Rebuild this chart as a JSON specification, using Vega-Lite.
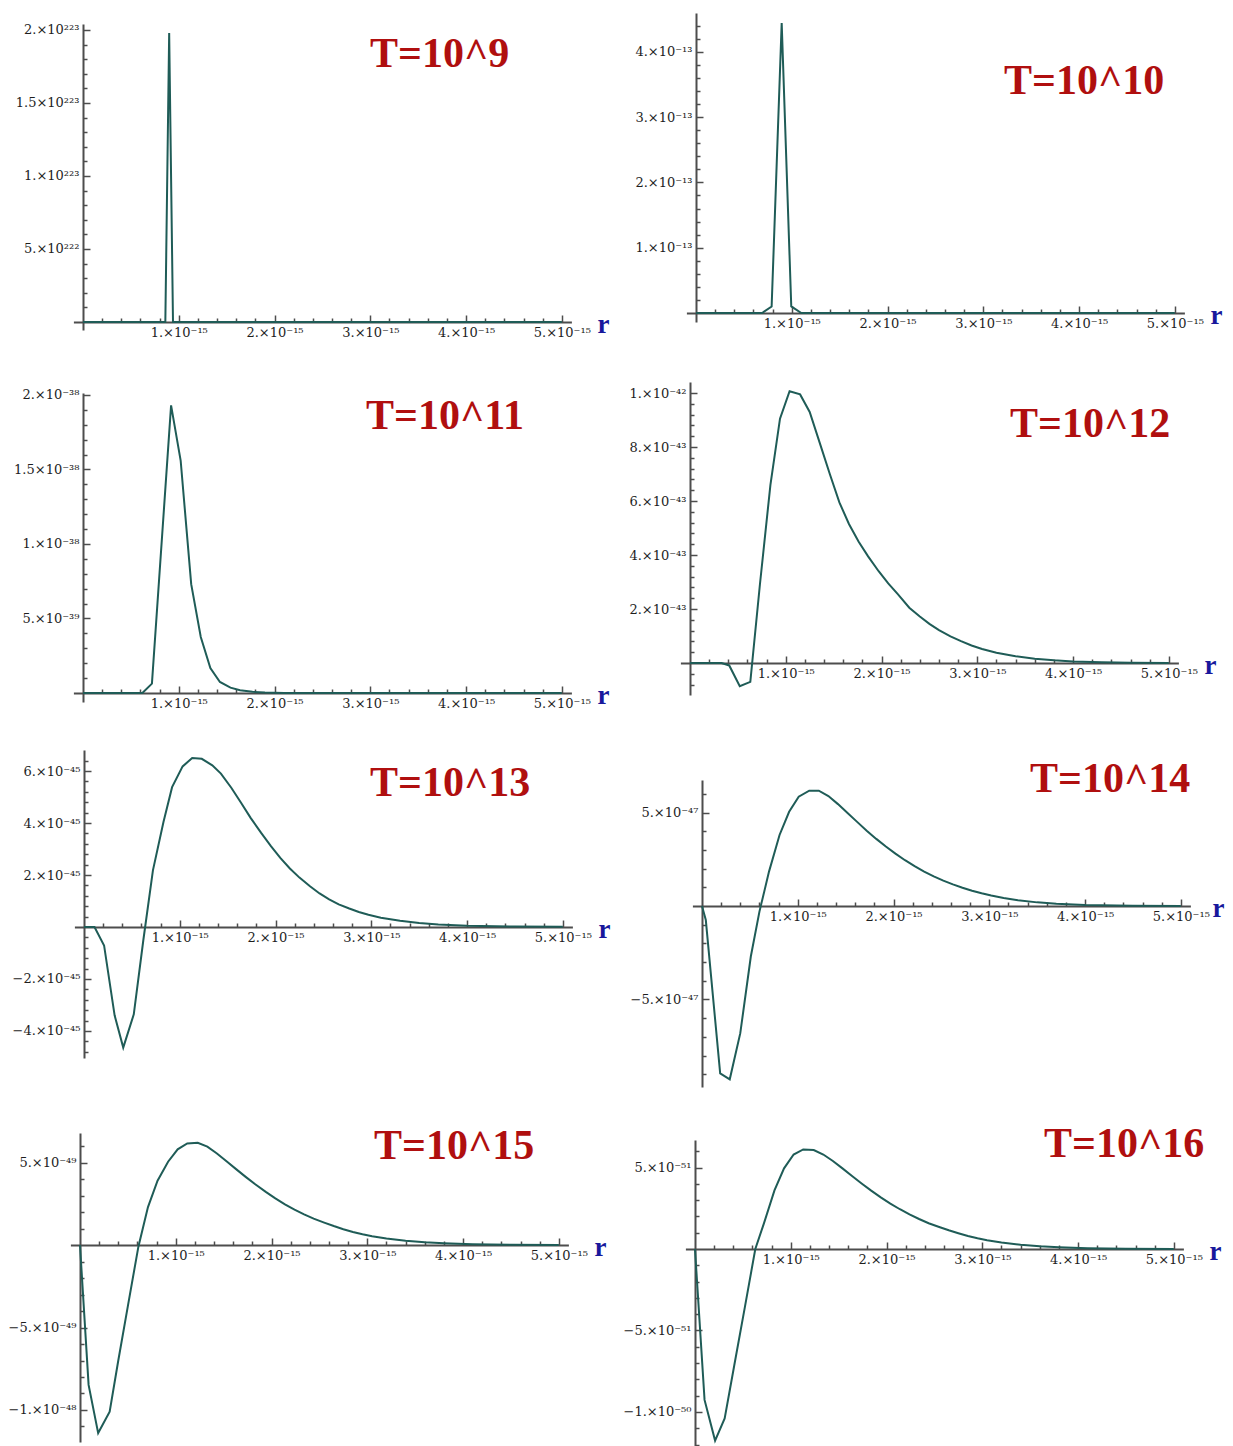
{
  "$schema": "https://vega.github.io/schema/vega-lite/v6.json",
  "background": "white",
  "padding": 0,
  "spacing": 0,
  "config": {
    "view": {"stroke": null},
    "axis": {
      "grid": false,
      "zindex": 1,
      "domainColor": "#4d4d4d",
      "domainWidth": 2,
      "tickColor": "#4d4d4d",
      "tickWidth": 1.5,
      "labelFont": "DejaVu Serif",
      "labelFontSize": 13,
      "labelFontWeight": "normal",
      "labelColor": "#1e1e1e",
      "labelPadding": 11,
      "labelFlush": false,
      "labelOverlap": false,
      "labelBound": false
    },
    "title": {
      "font": "Liberation Serif",
      "fontSize": 42,
      "fontWeight": "bold",
      "color": "#b00f0f",
      "anchor": "start",
      "frame": "group",
      "orient": "top",
      "offset": 0,
      "baseline": "alphabetic"
    },
    "line": {"color": "#1f5c57", "strokeWidth": 2}
  },
  "datasets": {
    "t9": [{"r":0,"f":0},{"r":8.6e-16,"f":0},{"r":9.0e-16,"f":1.98e223},{"r":9.4e-16,"f":0},{"r":5e-15,"f":0}],
    "t10": [{"r":0,"f":0},{"r":6.9e-16,"f":0},{"r":7.9e-16,"f":1.0e-14},{"r":8.95e-16,"f":4.44e-13},{"r":9.95e-16,"f":1.0e-14},{"r":1.1e-15,"f":0},{"r":5e-15,"f":0}],
    "t11": [{"r":0,"f":0},{"r":6.2e-16,"f":0},{"r":7.2e-16,"f":6.3e-40},{"r":9.2e-16,"f":1.93e-38},{"r":1.02e-15,"f":1.56e-38},{"r":1.13e-15,"f":7.3e-39},{"r":1.23e-15,"f":3.76e-39},{"r":1.33e-15,"f":1.68e-39},{"r":1.43e-15,"f":7.4e-40},{"r":1.54e-15,"f":3.6e-40},{"r":1.64e-15,"f":1.8e-40},{"r":1.77e-15,"f":8e-41},{"r":1.9e-15,"f":3e-41},{"r":2.1e-15,"f":0},{"r":5e-15,"f":0}],
    "t12": [{"r":0,"f":0},{"r":3.3e-16,"f":0},{"r":4.1e-16,"f":-9e-45},{"r":5.2e-16,"f":-8.6e-44},{"r":6.3e-16,"f":-7.0e-44},{"r":7.3e-16,"f":2.9e-43},{"r":8.4e-16,"f":6.6e-43},{"r":9.4e-16,"f":9.05e-43},{"r":1.04e-15,"f":1.007e-42},{"r":1.15e-15,"f":9.95e-43},{"r":1.25e-15,"f":9.3e-43},{"r":1.36e-15,"f":8.1e-43},{"r":1.46e-15,"f":7.0e-43},{"r":1.56e-15,"f":5.95e-43},{"r":1.66e-15,"f":5.15e-43},{"r":1.76e-15,"f":4.5e-43},{"r":1.86e-15,"f":3.95e-43},{"r":1.97e-15,"f":3.4e-43},{"r":2.07e-15,"f":2.95e-43},{"r":2.17e-15,"f":2.55e-43},{"r":2.29e-15,"f":2.05e-43},{"r":2.4e-15,"f":1.72e-43},{"r":2.5e-15,"f":1.45e-43},{"r":2.6e-15,"f":1.22e-43},{"r":2.72e-15,"f":9.9e-44},{"r":2.83e-15,"f":8.1e-44},{"r":2.94e-15,"f":6.5e-44},{"r":3.05e-15,"f":5.2e-44},{"r":3.2e-15,"f":3.8e-44},{"r":3.4e-15,"f":2.5e-44},{"r":3.6e-15,"f":1.6e-44},{"r":3.8e-15,"f":1e-44},{"r":4.0e-15,"f":6e-45},{"r":4.3e-15,"f":3e-45},{"r":4.6e-15,"f":1.2e-45},{"r":5e-15,"f":4e-46}],
    "t13": [{"r":0,"f":0},{"r":1.1e-16,"f":0},{"r":2.1e-16,"f":-7.1e-46},{"r":3.2e-16,"f":-3.4e-45},{"r":4.1e-16,"f":-4.64e-45},{"r":5.2e-16,"f":-3.36e-45},{"r":6.2e-16,"f":-5e-46},{"r":7.2e-16,"f":2.18e-45},{"r":8.3e-16,"f":4.04e-45},{"r":9.2e-16,"f":5.38e-45},{"r":1.03e-15,"f":6.18e-45},{"r":1.13e-15,"f":6.5e-45},{"r":1.23e-15,"f":6.47e-45},{"r":1.34e-15,"f":6.22e-45},{"r":1.43e-15,"f":5.9e-45},{"r":1.54e-15,"f":5.35e-45},{"r":1.64e-15,"f":4.78e-45},{"r":1.74e-15,"f":4.2e-45},{"r":1.85e-15,"f":3.62e-45},{"r":1.95e-15,"f":3.12e-45},{"r":2.05e-15,"f":2.66e-45},{"r":2.15e-15,"f":2.25e-45},{"r":2.25e-15,"f":1.9e-45},{"r":2.36e-15,"f":1.57e-45},{"r":2.46e-15,"f":1.29e-45},{"r":2.56e-15,"f":1.06e-45},{"r":2.66e-15,"f":8.7e-46},{"r":2.77e-15,"f":7.1e-46},{"r":2.87e-15,"f":5.8e-46},{"r":2.97e-15,"f":4.7e-46},{"r":3.1e-15,"f":3.6e-46},{"r":3.3e-15,"f":2.4e-46},{"r":3.5e-15,"f":1.55e-46},{"r":3.7e-15,"f":1e-46},{"r":4.0e-15,"f":5e-47},{"r":4.5e-15,"f":1.6e-47},{"r":5e-15,"f":5e-48}],
    "t14": [{"r":0,"f":0},{"r":4e-17,"f":-7.5e-48},{"r":1.9e-16,"f":-8.95e-47},{"r":2.9e-16,"f":-9.27e-47},{"r":4.0e-16,"f":-6.8e-47},{"r":5.1e-16,"f":-2.7e-47},{"r":6.0e-16,"f":-3e-48},{"r":7.0e-16,"f":1.84e-47},{"r":8.1e-16,"f":3.8e-47},{"r":9.1e-16,"f":5.04e-47},{"r":1.01e-15,"f":5.85e-47},{"r":1.12e-15,"f":6.17e-47},{"r":1.22e-15,"f":6.17e-47},{"r":1.32e-15,"f":5.88e-47},{"r":1.42e-15,"f":5.45e-47},{"r":1.52e-15,"f":4.98e-47},{"r":1.62e-15,"f":4.5e-47},{"r":1.72e-15,"f":4.03e-47},{"r":1.82e-15,"f":3.59e-47},{"r":1.92e-15,"f":3.18e-47},{"r":2.02e-15,"f":2.8e-47},{"r":2.12e-15,"f":2.45e-47},{"r":2.22e-15,"f":2.13e-47},{"r":2.32e-15,"f":1.84e-47},{"r":2.42e-15,"f":1.59e-47},{"r":2.52e-15,"f":1.36e-47},{"r":2.62e-15,"f":1.16e-47},{"r":2.72e-15,"f":9.8e-48},{"r":2.82e-15,"f":8.2e-48},{"r":2.92e-15,"f":6.8e-48},{"r":3.02e-15,"f":5.6e-48},{"r":3.15e-15,"f":4.3e-48},{"r":3.3e-15,"f":3.1e-48},{"r":3.5e-15,"f":1.95e-48},{"r":3.7e-15,"f":1.2e-48},{"r":4.0e-15,"f":6e-49},{"r":4.5e-15,"f":2e-49},{"r":5e-15,"f":5e-50}],
    "t15": [{"r":0,"f":0},{"r":9e-17,"f":-8.48e-49},{"r":1.9e-16,"f":-1.14e-48},{"r":3.1e-16,"f":-1.01e-48},{"r":4.0e-16,"f":-7.0e-49},{"r":5.0e-16,"f":-3.7e-49},{"r":6.1e-16,"f":-1e-50},{"r":7.1e-16,"f":2.3e-49},{"r":8.1e-16,"f":3.9e-49},{"r":9.2e-16,"f":5.05e-49},{"r":1.02e-15,"f":5.8e-49},{"r":1.12e-15,"f":6.16e-49},{"r":1.23e-15,"f":6.2e-49},{"r":1.33e-15,"f":5.96e-49},{"r":1.43e-15,"f":5.55e-49},{"r":1.53e-15,"f":5.08e-49},{"r":1.63e-15,"f":4.6e-49},{"r":1.73e-15,"f":4.13e-49},{"r":1.83e-15,"f":3.68e-49},{"r":1.94e-15,"f":3.22e-49},{"r":2.04e-15,"f":2.83e-49},{"r":2.14e-15,"f":2.47e-49},{"r":2.24e-15,"f":2.15e-49},{"r":2.34e-15,"f":1.86e-49},{"r":2.44e-15,"f":1.6e-49},{"r":2.55e-15,"f":1.36e-49},{"r":2.65e-15,"f":1.15e-49},{"r":2.75e-15,"f":9.6e-50},{"r":2.85e-15,"f":7.9e-50},{"r":2.95e-15,"f":6.5e-50},{"r":3.05e-15,"f":5.3e-50},{"r":3.2e-15,"f":3.9e-50},{"r":3.4e-15,"f":2.6e-50},{"r":3.6e-15,"f":1.65e-50},{"r":3.8e-15,"f":1.05e-50},{"r":4.1e-15,"f":5.2e-51},{"r":4.5e-15,"f":1.9e-51},{"r":5e-15,"f":5e-52}],
    "t16": [{"r":0,"f":0},{"r":1.0e-16,"f":-9.26e-51},{"r":2.1e-16,"f":-1.176e-50},{"r":3.1e-16,"f":-1.04e-50},{"r":4.1e-16,"f":-7.15e-51},{"r":5.2e-16,"f":-3.6e-51},{"r":6.3e-16,"f":0},{"r":7.2e-16,"f":1.57e-51},{"r":8.3e-16,"f":3.6e-51},{"r":9.3e-16,"f":4.95e-51},{"r":1.03e-15,"f":5.8e-51},{"r":1.13e-15,"f":6.11e-51},{"r":1.24e-15,"f":6.07e-51},{"r":1.34e-15,"f":5.8e-51},{"r":1.44e-15,"f":5.4e-51},{"r":1.54e-15,"f":4.95e-51},{"r":1.64e-15,"f":4.48e-51},{"r":1.74e-15,"f":4.02e-51},{"r":1.84e-15,"f":3.58e-51},{"r":1.94e-15,"f":3.17e-51},{"r":2.04e-15,"f":2.79e-51},{"r":2.14e-15,"f":2.44e-51},{"r":2.24e-15,"f":2.12e-51},{"r":2.34e-15,"f":1.84e-51},{"r":2.44e-15,"f":1.58e-51},{"r":2.55e-15,"f":1.35e-51},{"r":2.65e-15,"f":1.15e-51},{"r":2.75e-15,"f":9.7e-52},{"r":2.85e-15,"f":8e-52},{"r":2.95e-15,"f":6.6e-52},{"r":3.05e-15,"f":5.4e-52},{"r":3.2e-15,"f":4e-52},{"r":3.4e-15,"f":2.6e-52},{"r":3.6e-15,"f":1.65e-52},{"r":3.8e-15,"f":1.05e-52},{"r":4.1e-15,"f":5.2e-53},{"r":4.5e-15,"f":1.9e-53},{"r":5e-15,"f":5e-54}]
  },
  "vconcat": [
    {"spacing": 0, "hconcat": [
      {"width": 615, "height": 370, "data": {"name": "t9"},
       "title": {"text": "T=10^9", "dx": 370, "dy": 80},
       "mark": {"type": "line"},
       "encoding": {
         "x": {"field": "r", "type": "quantitative",
           "scale": {"domain": [-1e-16, 5.1e-15], "range": [73.4, 571.4], "nice": false, "zero": false},
           "axis": {"orient": "bottom", "offset": -48, "title": "r", "titleX": 597, "titleY": 10, "titleAlign": "left", "titleBaseline": "alphabetic", "titleAngle": 0, "titleFont": "Liberation Serif", "titleFontSize": 27, "titleFontWeight": "bold", "titleColor": "#18189c",
             "values": [2e-16,4e-16,6e-16,8e-16,1e-15,1.2e-15,1.4e-15,1.6e-15,1.8e-15,2e-15,2.2e-15,2.4e-15,2.6e-15,2.8e-15,3e-15,3.2e-15,3.4e-15,3.6e-15,3.8e-15,4e-15,4.2e-15,4.4e-15,4.6e-15,4.8e-15,5e-15],
             "tickSize": {"condition": {"test": "abs(datum.value / 1e-15 - round(datum.value / 1e-15)) < 0.001", "value": -7}, "value": -4},
             "labelExpr": "abs(datum.value / 1e-15 - round(datum.value / 1e-15)) > 0.001 ? '' : (datum.value < 0 ? '−' : '') + replace(slice(format(abs(datum.value), '.1e'), 0, 3), '.0', '.') + '×10' + replace(replace(replace(replace(replace(replace(replace(replace(replace(replace(replace(replace(replace(slice(format(abs(datum.value), '.1e'), 4), '+', ''), '-', '⁻'), '−', '⁻'), regexp('0', 'g'), '⁰'), regexp('1', 'g'), '¹'), regexp('2', 'g'), '²'), regexp('3', 'g'), '³'), regexp('4', 'g'), '⁴'), regexp('5', 'g'), '⁵'), regexp('6', 'g'), '⁶'), regexp('7', 'g'), '⁷'), regexp('8', 'g'), '⁸'), regexp('9', 'g'), '⁹')"}},
         "y": {"field": "f", "type": "quantitative",
           "scale": {"domain": [-5.48e221, 2.041e223], "range": [330, 24], "nice": false, "zero": false},
           "axis": {"orient": "left", "offset": -83, "title": null,
             "values": [1e222,2e222,3e222,4e222,5e222,6e222,7e222,8e222,9e222,1e223,1.1e223,1.2e223,1.3e223,1.4e223,1.5e223,1.6e223,1.7e223,1.8e223,1.9e223,2e223],
             "tickSize": {"condition": {"test": "abs(datum.value / 5e222 - round(datum.value / 5e222)) < 0.001", "value": -7}, "value": -4},
             "labelExpr": "abs(datum.value / 5e222 - round(datum.value / 5e222)) > 0.001 ? '' : (datum.value < 0 ? '−' : '') + replace(slice(format(abs(datum.value), '.1e'), 0, 3), '.0', '.') + '×10' + replace(replace(replace(replace(replace(replace(replace(replace(replace(replace(replace(replace(replace(slice(format(abs(datum.value), '.1e'), 4), '+', ''), '-', '⁻'), '−', '⁻'), regexp('0', 'g'), '⁰'), regexp('1', 'g'), '¹'), regexp('2', 'g'), '²'), regexp('3', 'g'), '³'), regexp('4', 'g'), '⁴'), regexp('5', 'g'), '⁵'), regexp('6', 'g'), '⁶'), regexp('7', 'g'), '⁷'), regexp('8', 'g'), '⁸'), regexp('9', 'g'), '⁹')"}}
       }},
      {"width": 618, "height": 370, "data": {"name": "t10"},
       "title": {"text": "T=10^10", "dx": 389, "dy": 107},
       "mark": {"type": "line"},
       "encoding": {
         "x": {"field": "r", "type": "quantitative",
           "scale": {"domain": [-1e-16, 5.1e-15], "range": [71.4, 569.4], "nice": false, "zero": false},
           "axis": {"orient": "bottom", "offset": -57, "title": "r", "titleX": 595, "titleY": 10, "titleAlign": "left", "titleBaseline": "alphabetic", "titleAngle": 0, "titleFont": "Liberation Serif", "titleFontSize": 27, "titleFontWeight": "bold", "titleColor": "#18189c",
             "values": [2e-16,4e-16,6e-16,8e-16,1e-15,1.2e-15,1.4e-15,1.6e-15,1.8e-15,2e-15,2.2e-15,2.4e-15,2.6e-15,2.8e-15,3e-15,3.2e-15,3.4e-15,3.6e-15,3.8e-15,4e-15,4.2e-15,4.4e-15,4.6e-15,4.8e-15,5e-15],
             "tickSize": {"condition": {"test": "abs(datum.value / 1e-15 - round(datum.value / 1e-15)) < 0.001", "value": -7}, "value": -4},
             "labelExpr": "abs(datum.value / 1e-15 - round(datum.value / 1e-15)) > 0.001 ? '' : (datum.value < 0 ? '−' : '') + replace(slice(format(abs(datum.value), '.1e'), 0, 3), '.0', '.') + '×10' + replace(replace(replace(replace(replace(replace(replace(replace(replace(replace(replace(replace(replace(slice(format(abs(datum.value), '.1e'), 4), '+', ''), '-', '⁻'), '−', '⁻'), regexp('0', 'g'), '⁰'), regexp('1', 'g'), '¹'), regexp('2', 'g'), '²'), regexp('3', 'g'), '³'), regexp('4', 'g'), '⁴'), regexp('5', 'g'), '⁵'), regexp('6', 'g'), '⁶'), regexp('7', 'g'), '⁷'), regexp('8', 'g'), '⁸'), regexp('9', 'g'), '⁹')"}},
         "y": {"field": "f", "type": "quantitative",
           "scale": {"domain": [-1.38e-14, 4.594e-13], "range": [322, 13], "nice": false, "zero": false},
           "axis": {"orient": "left", "offset": -81, "title": null,
             "values": [2e-14,4e-14,6e-14,8e-14,1e-13,1.2e-13,1.4e-13,1.6e-13,1.8e-13,2e-13,2.2e-13,2.4e-13,2.6e-13,2.8e-13,3e-13,3.2e-13,3.4e-13,3.6e-13,3.8e-13,4e-13,4.2e-13,4.4e-13],
             "tickSize": {"condition": {"test": "abs(datum.value / 1e-13 - round(datum.value / 1e-13)) < 0.001", "value": -7}, "value": -4},
             "labelExpr": "abs(datum.value / 1e-13 - round(datum.value / 1e-13)) > 0.001 ? '' : (datum.value < 0 ? '−' : '') + replace(slice(format(abs(datum.value), '.1e'), 0, 3), '.0', '.') + '×10' + replace(replace(replace(replace(replace(replace(replace(replace(replace(replace(replace(replace(replace(slice(format(abs(datum.value), '.1e'), 4), '+', ''), '-', '⁻'), '−', '⁻'), regexp('0', 'g'), '⁰'), regexp('1', 'g'), '¹'), regexp('2', 'g'), '²'), regexp('3', 'g'), '³'), regexp('4', 'g'), '⁴'), regexp('5', 'g'), '⁵'), regexp('6', 'g'), '⁶'), regexp('7', 'g'), '⁷'), regexp('8', 'g'), '⁸'), regexp('9', 'g'), '⁹')"}}
       }}
    ]},
    {"spacing": 0, "hconcat": [
      {"width": 615, "height": 370, "data": {"name": "t11"},
       "title": {"text": "T=10^11", "dx": 366, "dy": 72},
       "mark": {"type": "line"},
       "encoding": {
         "x": {"field": "r", "type": "quantitative",
           "scale": {"domain": [-1e-16, 5.1e-15], "range": [73.4, 571.4], "nice": false, "zero": false},
           "axis": {"orient": "bottom", "offset": -47, "title": "r", "titleX": 597, "titleY": 10, "titleAlign": "left", "titleBaseline": "alphabetic", "titleAngle": 0, "titleFont": "Liberation Serif", "titleFontSize": 27, "titleFontWeight": "bold", "titleColor": "#18189c",
             "values": [2e-16,4e-16,6e-16,8e-16,1e-15,1.2e-15,1.4e-15,1.6e-15,1.8e-15,2e-15,2.2e-15,2.4e-15,2.6e-15,2.8e-15,3e-15,3.2e-15,3.4e-15,3.6e-15,3.8e-15,4e-15,4.2e-15,4.4e-15,4.6e-15,4.8e-15,5e-15],
             "tickSize": {"condition": {"test": "abs(datum.value / 1e-15 - round(datum.value / 1e-15)) < 0.001", "value": -7}, "value": -4},
             "labelExpr": "abs(datum.value / 1e-15 - round(datum.value / 1e-15)) > 0.001 ? '' : (datum.value < 0 ? '−' : '') + replace(slice(format(abs(datum.value), '.1e'), 0, 3), '.0', '.') + '×10' + replace(replace(replace(replace(replace(replace(replace(replace(replace(replace(replace(replace(replace(slice(format(abs(datum.value), '.1e'), 4), '+', ''), '-', '⁻'), '−', '⁻'), regexp('0', 'g'), '⁰'), regexp('1', 'g'), '¹'), regexp('2', 'g'), '²'), regexp('3', 'g'), '³'), regexp('4', 'g'), '⁴'), regexp('5', 'g'), '⁵'), regexp('6', 'g'), '⁶'), regexp('7', 'g'), '⁷'), regexp('8', 'g'), '⁸'), regexp('9', 'g'), '⁹')"}},
         "y": {"field": "f", "type": "quantitative",
           "scale": {"domain": [-6.04e-40, 2.013e-38], "range": [332, 23], "nice": false, "zero": false},
           "axis": {"orient": "left", "offset": -83, "title": null,
             "values": [1e-39,2e-39,3e-39,4e-39,5e-39,6e-39,7e-39,8e-39,9e-39,1e-38,1.1e-38,1.2e-38,1.3e-38,1.4e-38,1.5e-38,1.6e-38,1.7e-38,1.8e-38,1.9e-38,2e-38],
             "tickSize": {"condition": {"test": "abs(datum.value / 5e-39 - round(datum.value / 5e-39)) < 0.001", "value": -7}, "value": -4},
             "labelExpr": "abs(datum.value / 5e-39 - round(datum.value / 5e-39)) > 0.001 ? '' : (datum.value < 0 ? '−' : '') + replace(slice(format(abs(datum.value), '.1e'), 0, 3), '.0', '.') + '×10' + replace(replace(replace(replace(replace(replace(replace(replace(replace(replace(replace(replace(replace(slice(format(abs(datum.value), '.1e'), 4), '+', ''), '-', '⁻'), '−', '⁻'), regexp('0', 'g'), '⁰'), regexp('1', 'g'), '¹'), regexp('2', 'g'), '²'), regexp('3', 'g'), '³'), regexp('4', 'g'), '⁴'), regexp('5', 'g'), '⁵'), regexp('6', 'g'), '⁶'), regexp('7', 'g'), '⁷'), regexp('8', 'g'), '⁸'), regexp('9', 'g'), '⁹')"}}
       }},
      {"width": 618, "height": 370, "data": {"name": "t12"},
       "title": {"text": "T=10^12", "dx": 395, "dy": 80},
       "mark": {"type": "line"},
       "encoding": {
         "x": {"field": "r", "type": "quantitative",
           "scale": {"domain": [-1e-16, 5.1e-15], "range": [65.4, 563.4], "nice": false, "zero": false},
           "axis": {"orient": "bottom", "offset": -77, "title": "r", "titleX": 589, "titleY": 10, "titleAlign": "left", "titleBaseline": "alphabetic", "titleAngle": 0, "titleFont": "Liberation Serif", "titleFontSize": 27, "titleFontWeight": "bold", "titleColor": "#18189c",
             "values": [2e-16,4e-16,6e-16,8e-16,1e-15,1.2e-15,1.4e-15,1.6e-15,1.8e-15,2e-15,2.2e-15,2.4e-15,2.6e-15,2.8e-15,3e-15,3.2e-15,3.4e-15,3.6e-15,3.8e-15,4e-15,4.2e-15,4.4e-15,4.6e-15,4.8e-15,5e-15],
             "tickSize": {"condition": {"test": "abs(datum.value / 1e-15 - round(datum.value / 1e-15)) < 0.001", "value": -7}, "value": -4},
             "labelExpr": "abs(datum.value / 1e-15 - round(datum.value / 1e-15)) > 0.001 ? '' : (datum.value < 0 ? '−' : '') + replace(slice(format(abs(datum.value), '.1e'), 0, 3), '.0', '.') + '×10' + replace(replace(replace(replace(replace(replace(replace(replace(replace(replace(replace(replace(replace(slice(format(abs(datum.value), '.1e'), 4), '+', ''), '-', '⁻'), '−', '⁻'), regexp('0', 'g'), '⁰'), regexp('1', 'g'), '¹'), regexp('2', 'g'), '²'), regexp('3', 'g'), '³'), regexp('4', 'g'), '⁴'), regexp('5', 'g'), '⁵'), regexp('6', 'g'), '⁶'), regexp('7', 'g'), '⁷'), regexp('8', 'g'), '⁸'), regexp('9', 'g'), '⁹')"}},
         "y": {"field": "f", "type": "quantitative",
           "scale": {"domain": [-1.185e-43, 1.041e-42], "range": [325, 12], "nice": false, "zero": false},
           "axis": {"orient": "left", "offset": -75, "title": null,
             "values": [-8e-44,-4e-44,4e-44,8e-44,1.2e-43,1.6e-43,2e-43,2.4e-43,2.8e-43,3.2e-43,3.6e-43,4e-43,4.4e-43,4.8e-43,5.2e-43,5.6e-43,6e-43,6.4e-43,6.8e-43,7.2e-43,7.6e-43,8e-43,8.4e-43,8.8e-43,9.2e-43,9.6e-43,1e-42],
             "tickSize": {"condition": {"test": "abs(datum.value / 2e-43 - round(datum.value / 2e-43)) < 0.001", "value": -7}, "value": -4},
             "labelExpr": "abs(datum.value / 2e-43 - round(datum.value / 2e-43)) > 0.001 ? '' : (datum.value < 0 ? '−' : '') + replace(slice(format(abs(datum.value), '.1e'), 0, 3), '.0', '.') + '×10' + replace(replace(replace(replace(replace(replace(replace(replace(replace(replace(replace(replace(replace(slice(format(abs(datum.value), '.1e'), 4), '+', ''), '-', '⁻'), '−', '⁻'), regexp('0', 'g'), '⁰'), regexp('1', 'g'), '¹'), regexp('2', 'g'), '²'), regexp('3', 'g'), '³'), regexp('4', 'g'), '⁴'), regexp('5', 'g'), '⁵'), regexp('6', 'g'), '⁶'), regexp('7', 'g'), '⁷'), regexp('8', 'g'), '⁸'), regexp('9', 'g'), '⁹')"}}
       }}
    ]},
    {"spacing": 0, "hconcat": [
      {"width": 615, "height": 360, "data": {"name": "t13"},
       "title": {"text": "T=10^13", "dx": 370, "dy": 69},
       "mark": {"type": "line"},
       "encoding": {
         "x": {"field": "r", "type": "quantitative",
           "scale": {"domain": [-1e-16, 5.1e-15], "range": [74.4, 572.4], "nice": false, "zero": false},
           "axis": {"orient": "bottom", "offset": -173, "title": "r", "titleX": 598, "titleY": 10, "titleAlign": "left", "titleBaseline": "alphabetic", "titleAngle": 0, "titleFont": "Liberation Serif", "titleFontSize": 27, "titleFontWeight": "bold", "titleColor": "#18189c",
             "values": [2e-16,4e-16,6e-16,8e-16,1e-15,1.2e-15,1.4e-15,1.6e-15,1.8e-15,2e-15,2.2e-15,2.4e-15,2.6e-15,2.8e-15,3e-15,3.2e-15,3.4e-15,3.6e-15,3.8e-15,4e-15,4.2e-15,4.4e-15,4.6e-15,4.8e-15,5e-15],
             "tickSize": {"condition": {"test": "abs(datum.value / 1e-15 - round(datum.value / 1e-15)) < 0.001", "value": -7}, "value": -4},
             "labelExpr": "abs(datum.value / 1e-15 - round(datum.value / 1e-15)) > 0.001 ? '' : (datum.value < 0 ? '−' : '') + replace(slice(format(abs(datum.value), '.1e'), 0, 3), '.0', '.') + '×10' + replace(replace(replace(replace(replace(replace(replace(replace(replace(replace(replace(replace(replace(slice(format(abs(datum.value), '.1e'), 4), '+', ''), '-', '⁻'), '−', '⁻'), regexp('0', 'g'), '⁰'), regexp('1', 'g'), '¹'), regexp('2', 'g'), '²'), regexp('3', 'g'), '³'), regexp('4', 'g'), '⁴'), regexp('5', 'g'), '⁵'), regexp('6', 'g'), '⁶'), regexp('7', 'g'), '⁷'), regexp('8', 'g'), '⁸'), regexp('9', 'g'), '⁹')"}},
         "y": {"field": "f", "type": "quantitative",
           "scale": {"domain": [-5.04e-45, 6.81e-45], "range": [318, 10], "nice": false, "zero": false},
           "axis": {"orient": "left", "offset": -84, "title": null,
             "values": [-4.8e-45,-4.4e-45,-4e-45,-3.6e-45,-3.2e-45,-2.8e-45,-2.4e-45,-2e-45,-1.6e-45,-1.2e-45,-8e-46,-4e-46,4e-46,8e-46,1.2e-45,1.6e-45,2e-45,2.4e-45,2.8e-45,3.2e-45,3.6e-45,4e-45,4.4e-45,4.8e-45,5.2e-45,5.6e-45,6e-45,6.4e-45],
             "tickSize": {"condition": {"test": "abs(datum.value / 2e-45 - round(datum.value / 2e-45)) < 0.001", "value": -7}, "value": -4},
             "labelExpr": "abs(datum.value / 2e-45 - round(datum.value / 2e-45)) > 0.001 ? '' : (datum.value < 0 ? '−' : '') + replace(slice(format(abs(datum.value), '.1e'), 0, 3), '.0', '.') + '×10' + replace(replace(replace(replace(replace(replace(replace(replace(replace(replace(replace(replace(replace(slice(format(abs(datum.value), '.1e'), 4), '+', ''), '-', '⁻'), '−', '⁻'), regexp('0', 'g'), '⁰'), regexp('1', 'g'), '¹'), regexp('2', 'g'), '²'), regexp('3', 'g'), '³'), regexp('4', 'g'), '⁴'), regexp('5', 'g'), '⁵'), regexp('6', 'g'), '⁶'), regexp('7', 'g'), '⁷'), regexp('8', 'g'), '⁸'), regexp('9', 'g'), '⁹')"}}
       }},
      {"width": 618, "height": 360, "data": {"name": "t14"},
       "title": {"text": "T=10^14", "dx": 415, "dy": 65},
       "mark": {"type": "line"},
       "encoding": {
         "x": {"field": "r", "type": "quantitative",
           "scale": {"domain": [-1e-16, 5.1e-15], "range": [77.4, 575.4], "nice": false, "zero": false},
           "axis": {"orient": "bottom", "offset": -194, "title": "r", "titleX": 597, "titleY": 10, "titleAlign": "left", "titleBaseline": "alphabetic", "titleAngle": 0, "titleFont": "Liberation Serif", "titleFontSize": 27, "titleFontWeight": "bold", "titleColor": "#18189c",
             "values": [2e-16,4e-16,6e-16,8e-16,1e-15,1.2e-15,1.4e-15,1.6e-15,1.8e-15,2e-15,2.2e-15,2.4e-15,2.6e-15,2.8e-15,3e-15,3.2e-15,3.4e-15,3.6e-15,3.8e-15,4e-15,4.2e-15,4.4e-15,4.6e-15,4.8e-15,5e-15],
             "tickSize": {"condition": {"test": "abs(datum.value / 1e-15 - round(datum.value / 1e-15)) < 0.001", "value": -7}, "value": -4},
             "labelExpr": "abs(datum.value / 1e-15 - round(datum.value / 1e-15)) > 0.001 ? '' : (datum.value < 0 ? '−' : '') + replace(slice(format(abs(datum.value), '.1e'), 0, 3), '.0', '.') + '×10' + replace(replace(replace(replace(replace(replace(replace(replace(replace(replace(replace(replace(replace(slice(format(abs(datum.value), '.1e'), 4), '+', ''), '-', '⁻'), '−', '⁻'), regexp('0', 'g'), '⁰'), regexp('1', 'g'), '¹'), regexp('2', 'g'), '²'), regexp('3', 'g'), '³'), regexp('4', 'g'), '⁴'), regexp('5', 'g'), '⁵'), regexp('6', 'g'), '⁶'), regexp('7', 'g'), '⁷'), regexp('8', 'g'), '⁸'), regexp('9', 'g'), '⁹')"}},
         "y": {"field": "f", "type": "quantitative",
           "scale": {"domain": [-9.68e-47, 6.74e-47], "range": [347, 40], "nice": false, "zero": false},
           "axis": {"orient": "left", "offset": -87, "title": null,
             "values": [-9e-47,-8e-47,-7e-47,-6e-47,-5e-47,-4e-47,-3e-47,-2e-47,-1e-47,1e-47,2e-47,3e-47,4e-47,5e-47,6e-47],
             "tickSize": {"condition": {"test": "abs(datum.value / 5e-47 - round(datum.value / 5e-47)) < 0.001", "value": -7}, "value": -4},
             "labelExpr": "abs(datum.value / 5e-47 - round(datum.value / 5e-47)) > 0.001 ? '' : (datum.value < 0 ? '−' : '') + replace(slice(format(abs(datum.value), '.1e'), 0, 3), '.0', '.') + '×10' + replace(replace(replace(replace(replace(replace(replace(replace(replace(replace(replace(replace(replace(slice(format(abs(datum.value), '.1e'), 4), '+', ''), '-', '⁻'), '−', '⁻'), regexp('0', 'g'), '⁰'), regexp('1', 'g'), '¹'), regexp('2', 'g'), '²'), regexp('3', 'g'), '³'), regexp('4', 'g'), '⁴'), regexp('5', 'g'), '⁵'), regexp('6', 'g'), '⁶'), regexp('7', 'g'), '⁷'), regexp('8', 'g'), '⁸'), regexp('9', 'g'), '⁹')"}}
       }}
    ]},
    {"spacing": 0, "hconcat": [
      {"width": 615, "height": 346, "data": {"name": "t15"},
       "title": {"text": "T=10^15", "dx": 374, "dy": 72},
       "mark": {"type": "line"},
       "encoding": {
         "x": {"field": "r", "type": "quantitative",
           "scale": {"domain": [-1e-16, 5.1e-15], "range": [70.4, 568.4], "nice": false, "zero": false},
           "axis": {"orient": "bottom", "offset": -201, "title": "r", "titleX": 594, "titleY": 10, "titleAlign": "left", "titleBaseline": "alphabetic", "titleAngle": 0, "titleFont": "Liberation Serif", "titleFontSize": 27, "titleFontWeight": "bold", "titleColor": "#18189c",
             "values": [2e-16,4e-16,6e-16,8e-16,1e-15,1.2e-15,1.4e-15,1.6e-15,1.8e-15,2e-15,2.2e-15,2.4e-15,2.6e-15,2.8e-15,3e-15,3.2e-15,3.4e-15,3.6e-15,3.8e-15,4e-15,4.2e-15,4.4e-15,4.6e-15,4.8e-15,5e-15],
             "tickSize": {"condition": {"test": "abs(datum.value / 1e-15 - round(datum.value / 1e-15)) < 0.001", "value": -7}, "value": -4},
             "labelExpr": "abs(datum.value / 1e-15 - round(datum.value / 1e-15)) > 0.001 ? '' : (datum.value < 0 ? '−' : '') + replace(slice(format(abs(datum.value), '.1e'), 0, 3), '.0', '.') + '×10' + replace(replace(replace(replace(replace(replace(replace(replace(replace(replace(replace(replace(replace(slice(format(abs(datum.value), '.1e'), 4), '+', ''), '-', '⁻'), '−', '⁻'), regexp('0', 'g'), '⁰'), regexp('1', 'g'), '¹'), regexp('2', 'g'), '²'), regexp('3', 'g'), '³'), regexp('4', 'g'), '⁴'), regexp('5', 'g'), '⁵'), regexp('6', 'g'), '⁶'), regexp('7', 'g'), '⁷'), regexp('8', 'g'), '⁸'), regexp('9', 'g'), '⁹')"}},
         "y": {"field": "f", "type": "quantitative",
           "scale": {"domain": [-1.194e-48, 6.79e-49], "range": [342, 33], "nice": false, "zero": false},
           "axis": {"orient": "left", "offset": -80, "title": null,
             "values": [-1.1e-48,-1e-48,-9e-49,-8e-49,-7e-49,-6e-49,-5e-49,-4e-49,-3e-49,-2e-49,-1e-49,1e-49,2e-49,3e-49,4e-49,5e-49,6e-49],
             "tickSize": {"condition": {"test": "abs(datum.value / 5e-49 - round(datum.value / 5e-49)) < 0.001", "value": -7}, "value": -4},
             "labelExpr": "abs(datum.value / 5e-49 - round(datum.value / 5e-49)) > 0.001 ? '' : (datum.value < 0 ? '−' : '') + replace(slice(format(abs(datum.value), '.1e'), 0, 3), '.0', '.') + '×10' + replace(replace(replace(replace(replace(replace(replace(replace(replace(replace(replace(replace(replace(slice(format(abs(datum.value), '.1e'), 4), '+', ''), '-', '⁻'), '−', '⁻'), regexp('0', 'g'), '⁰'), regexp('1', 'g'), '¹'), regexp('2', 'g'), '²'), regexp('3', 'g'), '³'), regexp('4', 'g'), '⁴'), regexp('5', 'g'), '⁵'), regexp('6', 'g'), '⁶'), regexp('7', 'g'), '⁷'), regexp('8', 'g'), '⁸'), regexp('9', 'g'), '⁹')"}}
       }},
      {"width": 618, "height": 346, "data": {"name": "t16"},
       "title": {"text": "T=10^16", "dx": 429, "dy": 70},
       "mark": {"type": "line"},
       "encoding": {
         "x": {"field": "r", "type": "quantitative",
           "scale": {"domain": [-1e-16, 5.1e-15], "range": [70.4, 568.4], "nice": false, "zero": false},
           "axis": {"orient": "bottom", "offset": -197, "title": "r", "titleX": 594, "titleY": 10, "titleAlign": "left", "titleBaseline": "alphabetic", "titleAngle": 0, "titleFont": "Liberation Serif", "titleFontSize": 27, "titleFontWeight": "bold", "titleColor": "#18189c",
             "values": [2e-16,4e-16,6e-16,8e-16,1e-15,1.2e-15,1.4e-15,1.6e-15,1.8e-15,2e-15,2.2e-15,2.4e-15,2.6e-15,2.8e-15,3e-15,3.2e-15,3.4e-15,3.6e-15,3.8e-15,4e-15,4.2e-15,4.4e-15,4.6e-15,4.8e-15,5e-15],
             "tickSize": {"condition": {"test": "abs(datum.value / 1e-15 - round(datum.value / 1e-15)) < 0.001", "value": -7}, "value": -4},
             "labelExpr": "abs(datum.value / 1e-15 - round(datum.value / 1e-15)) > 0.001 ? '' : (datum.value < 0 ? '−' : '') + replace(slice(format(abs(datum.value), '.1e'), 0, 3), '.0', '.') + '×10' + replace(replace(replace(replace(replace(replace(replace(replace(replace(replace(replace(replace(replace(slice(format(abs(datum.value), '.1e'), 4), '+', ''), '-', '⁻'), '−', '⁻'), regexp('0', 'g'), '⁰'), regexp('1', 'g'), '¹'), regexp('2', 'g'), '²'), regexp('3', 'g'), '³'), regexp('4', 'g'), '⁴'), regexp('5', 'g'), '⁵'), regexp('6', 'g'), '⁶'), regexp('7', 'g'), '⁷'), regexp('8', 'g'), '⁸'), regexp('9', 'g'), '⁹')"}},
         "y": {"field": "f", "type": "quantitative",
           "scale": {"domain": [-1.209e-50, 6.69e-51], "range": [346, 40], "nice": false, "zero": false},
           "axis": {"orient": "left", "offset": -80, "title": null,
             "values": [-1.2e-50,-1.1e-50,-1e-50,-9e-51,-8e-51,-7e-51,-6e-51,-5e-51,-4e-51,-3e-51,-2e-51,-1e-51,1e-51,2e-51,3e-51,4e-51,5e-51,6e-51],
             "tickSize": {"condition": {"test": "abs(datum.value / 5e-51 - round(datum.value / 5e-51)) < 0.001", "value": -7}, "value": -4},
             "labelExpr": "abs(datum.value / 5e-51 - round(datum.value / 5e-51)) > 0.001 ? '' : (datum.value < 0 ? '−' : '') + replace(slice(format(abs(datum.value), '.1e'), 0, 3), '.0', '.') + '×10' + replace(replace(replace(replace(replace(replace(replace(replace(replace(replace(replace(replace(replace(slice(format(abs(datum.value), '.1e'), 4), '+', ''), '-', '⁻'), '−', '⁻'), regexp('0', 'g'), '⁰'), regexp('1', 'g'), '¹'), regexp('2', 'g'), '²'), regexp('3', 'g'), '³'), regexp('4', 'g'), '⁴'), regexp('5', 'g'), '⁵'), regexp('6', 'g'), '⁶'), regexp('7', 'g'), '⁷'), regexp('8', 'g'), '⁸'), regexp('9', 'g'), '⁹')"}}
       }}
    ]}
  ]
}
